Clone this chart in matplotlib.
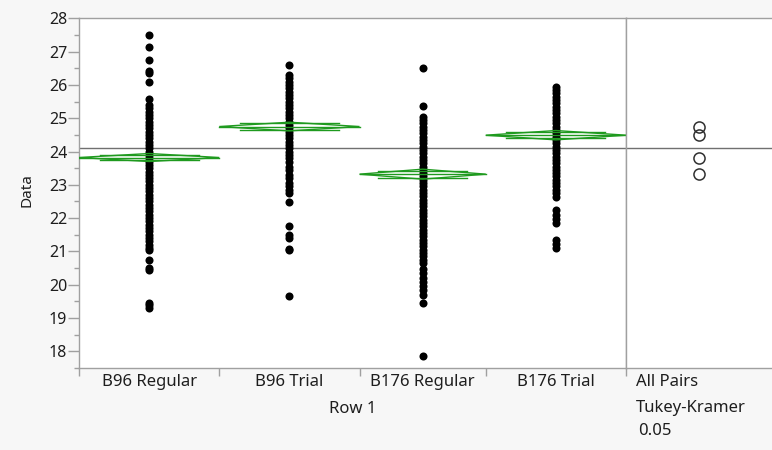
import numpy as np
import matplotlib.pyplot as plt
from matplotlib.patches import Polygon

plt.rcParams['font.family'] = ['Noto Sans', 'DejaVu Sans']

# Groups on the x axis and their raw observations
groups = ['B96 Regular', 'B96 Trial', 'B176 Regular', 'B176 Trial']

b96_regular = [27.5, 27.15, 26.75, 26.43, 26.35, 26.1, 25.58,
               25.4, 25.3, 25.2, 25.1, 25.0, 24.9, 24.8, 24.7, 24.6, 24.5,
               24.4, 24.3, 24.2, 24.1, 24.0, 23.9, 23.8, 23.7, 23.6, 23.5,
               23.4, 23.3, 23.2, 23.1, 23.0, 22.9, 22.8, 22.7, 22.6, 22.5,
               22.4, 22.3, 22.2, 22.1, 22.0, 21.9, 21.8, 21.7, 21.6, 21.5,
               21.4, 21.3, 21.2, 21.1, 21.05,
               20.75, 20.5, 20.45, 19.45, 19.38, 19.3]
b96_trial = [26.6,
             26.3, 26.2, 26.1, 26.0, 25.9, 25.8, 25.7, 25.6, 25.5, 25.4,
             25.3, 25.2, 25.1, 25.0, 24.9, 24.8, 24.7, 24.6, 24.5, 24.4,
             24.3, 24.2, 24.1, 24.0, 23.9, 23.8, 23.7,
             23.55, 23.45, 23.3, 23.2, 23.05, 22.95, 22.85, 22.75,
             22.48, 21.76, 21.5, 21.4, 21.08, 21.03, 19.66]
b176_regular = [26.5, 25.37,
                25.05, 24.95, 24.85, 24.75, 24.65, 24.55, 24.45, 24.35,
                24.25, 24.15, 24.05, 23.95, 23.85, 23.75, 23.65, 23.55,
                23.45, 23.35, 23.25, 23.15, 23.05, 22.95, 22.85, 22.75,
                22.65, 22.55, 22.45, 22.35, 22.25, 22.15, 22.05, 21.95,
                21.85, 21.75, 21.65, 21.55, 21.45, 21.35, 21.25, 21.15,
                21.05, 20.95, 20.85, 20.75, 20.65,
                20.48, 20.35, 20.2, 20.08, 19.95, 19.85, 19.68, 19.46, 17.86]
b176_trial = [25.95, 25.85, 25.75, 25.65, 25.55, 25.45, 25.35, 25.25,
              25.15, 25.05, 24.95, 24.85, 24.75, 24.65, 24.55, 24.45,
              24.35, 24.25, 24.15, 24.05, 23.95, 23.85, 23.75, 23.65,
              23.55, 23.45, 23.35, 23.25, 23.15, 23.05, 22.95, 22.85,
              22.75, 22.62,
              22.25, 22.1, 21.97, 21.85, 21.35, 21.22, 21.1]

# Group means and 95% CI half widths (mean diamonds)
group_means = [23.82, 24.75, 23.32, 24.49]
ci_half = [0.12, 0.13, 0.15, 0.14]
grand_mean = 24.11

# Relative widths of the group slots along the x axis
slot_share = np.array([1.0, 1.0, 0.9, 1.0])

edges = np.concatenate([[0], np.cumsum(slot_share)])
centers = (edges[:-1] + edges[1:]) / 2

W, H = 772, 450
fig = plt.figure(figsize=(W / 100, H / 100), dpi=100)
fig.patch.set_facecolor('#f7f7f7')

frame = '#a0a0a0'
text_col = '#1e1e1e'
green = '#1f9a1f'

bot = (H - 368) / H
ht = (368 - 18.3) / H
ax = fig.add_axes([79 / W, bot, 547 / W, ht])
ax2 = fig.add_axes([626 / W, bot, 150 / W, ht], sharey=ax)

for a in (ax, ax2):
    a.set_facecolor('white')
    for s in a.spines.values():
        s.set_color(frame)
        s.set_linewidth(1)
ax2.spines['right'].set_visible(False)

ax.set_ylim(17.54, 28)
ax.set_xlim(edges[0], edges[-1])

# Observations
for xc, vals in zip(centers, [b96_regular, b96_trial, b176_regular, b176_trial]):
    ax.plot(np.full(len(vals), xc), vals, 'o', color='black',
            markersize=5.8, markeredgewidth=0, zorder=3)

# Mean diamonds with overlap marks
for x0, x1, m, h in zip(edges[:-1], edges[1:], group_means, ci_half):
    xc = (x0 + x1) / 2
    diamond = Polygon([[x0, m], [xc, m + h], [x1, m], [xc, m - h]],
                      closed=True, fill=False, edgecolor=green, lw=1, zorder=4)
    ax.add_patch(diamond)
    ax.plot([x0, x1], [m, m], color=green, lw=1, zorder=4)
    k = 1 / np.sqrt(2)
    inset = (1 - k) * (x1 - x0) / 2
    for sgn in (1, -1):
        ax.plot([x0 + inset, x1 - inset], [m + sgn * h * k] * 2,
                color=green, lw=1, zorder=4)

# Grand mean across both panels
ax.axhline(grand_mean, color='#707070', lw=1, zorder=2)
ax2.axhline(grand_mean, color='#707070', lw=1, zorder=2)

# Comparison circles
ax2.set_xlim(0, 1)
ax2.plot(np.full(len(group_means), 73 / 150), group_means, 'o',
         mfc='none', mec='#303030', markersize=8, markeredgewidth=1.1,
         zorder=3)

# Y axis ticks
ax.set_yticks(np.arange(18, 29, 1))
ax.set_yticks(np.arange(17.5, 28.5, 0.5), minor=True)
ax.tick_params(axis='y', which='major', length=8, width=1, color=frame,
               labelsize=11.5, labelcolor=text_col, pad=0.5)
ax.tick_params(axis='y', which='minor', length=3.5, width=1, color=frame)
ax.set_ylabel('Data', fontsize=11, color=text_col)
ax.yaxis.set_label_coords((27 - 79) / 547, (368 - 190) / (368 - 18.3))
ax.yaxis.label.set_va('center')

# X axis: slot boundaries as ticks, group names centred in slots
ax.set_xticks(edges)
ax.set_xticklabels([])
ax.set_xticks(centers, minor=True)
ax.set_xticklabels(groups, minor=True)
ax.tick_params(axis='x', which='major', length=6, width=1, color=frame)
ax.tick_params(axis='x', which='minor', length=0, labelsize=12,
               labelcolor=text_col, pad=4)
ax.set_xlabel('Row 1', fontsize=12, color=text_col, labelpad=8)

ax2.set_xticks([])
ax2.tick_params(axis='y', which='both', left=False, labelleft=False)

fig.text(636 / W, 1 - 382 / H, 'All Pairs', fontsize=12, color=text_col,
         va='center', ha='left')
fig.text(636 / W, 1 - 408 / H, 'Tukey-Kramer', fontsize=12, color=text_col,
         va='center', ha='left')
fig.text(638 / W, 1 - 431 / H, '0.05', fontsize=12, color=text_col,
         va='center', ha='left')

fig.savefig('out.png', dpi=100, facecolor=fig.get_facecolor())
